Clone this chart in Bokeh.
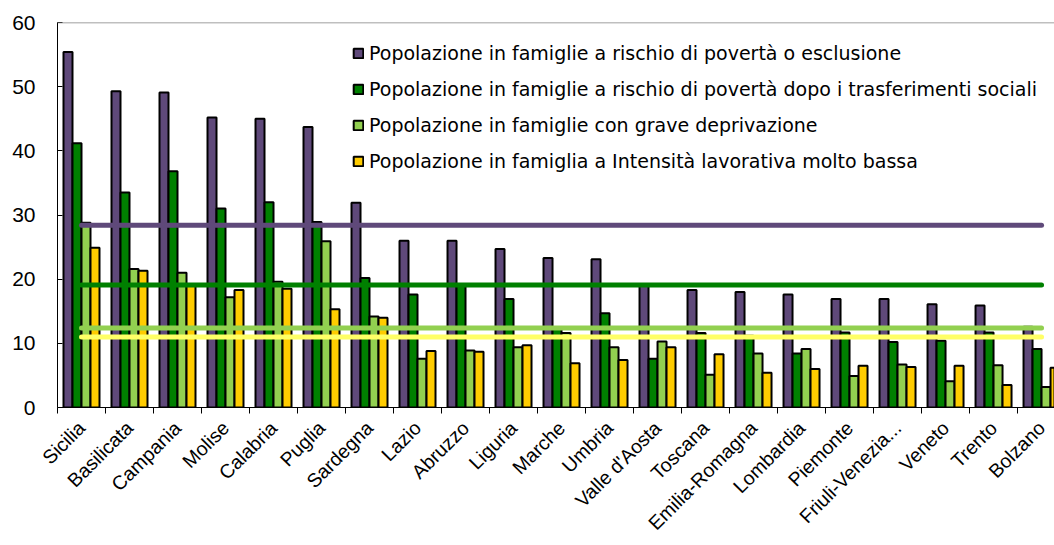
import math
from bokeh.plotting import figure
from bokeh.models import Range1d, FixedTicker, Span, Legend, LegendItem
from bokeh.embed import file_html
from bokeh.resources import INLINE

regions = ["Sicilia", "Basilicata", "Campania", "Molise", "Calabria", "Puglia",
           "Sardegna", "Lazio", "Abruzzo", "Liguria", "Marche", "Umbria",
           "Valle d'Aosta", "Toscana", "Emilia-Romagna", "Lombardia", "Piemonte",
           "Friuli-Venezia...", "Veneto", "Trento", "Bolzano"]

rischio_esclusione = [55.4, 49.3, 49.1, 45.2, 45.0, 43.7, 31.9, 26.0, 26.0, 24.7, 23.3,
                      23.1, 19.0, 18.3, 18.0, 17.6, 16.9, 16.9, 16.1, 15.9, 12.6]
rischio_poverta = [41.2, 33.5, 36.8, 31.0, 32.0, 28.9, 20.2, 17.6, 19.0, 16.9, 12.3,
                   14.7, 7.6, 11.6, 11.2, 8.4, 11.7, 10.2, 10.4, 11.7, 9.1]
grave_deprivazione = [28.8, 21.6, 21.0, 17.2, 19.6, 25.9, 14.2, 7.6, 8.9, 9.4, 11.6,
                      9.4, 10.3, 5.1, 8.4, 9.1, 4.9, 6.7, 4.1, 6.6, 3.2]
bassa_intensita = [24.9, 21.3, 19.1, 18.3, 18.5, 15.3, 14.0, 8.8, 8.7, 9.7, 6.9,
                   7.4, 9.4, 8.3, 5.4, 6.0, 6.5, 6.3, 6.5, 3.5, 6.2]

medie_italia = [28.4, 19.1, 12.4, 11.0]

series_names = [
    "Popolazione in famiglie a rischio di povertà o esclusione",
    "Popolazione in famiglie a rischio di povertà dopo i trasferimenti sociali",
    "Popolazione in famiglie con grave deprivazione",
    "Popolazione in famiglia a Intensità lavorativa molto bassa",
]
series_values = [rischio_esclusione, rischio_poverta, grave_deprivazione, bassa_intensita]
bar_colors = ["#5F497A", "#008000", "#92D050", "#FFCC00"]
line_colors = ["#5F497A", "#008000", "#92D050", "#FFFF66"]

y_ticks = [0, 10, 20, 30, 40, 50, 60]

n = len(regions)
xs = list(range(n))
bw = 0.1875

p = figure(width=1054, height=545, output_backend="svg", toolbar_location=None,
           x_range=Range1d(-0.5, 20.27), y_range=Range1d(0, 60),
           min_border_left=57, min_border_right=0, min_border_top=22,
           min_border_bottom=138)
p.outline_line_color = None
p.xgrid.visible = False
p.ygrid.visible = False
p.background_fill_color = "white"
p.border_fill_color = "white"

renderers = []
for k, (vals, col) in enumerate(zip(series_values, bar_colors)):
    xk = [x + (k - 1.5) * bw for x in xs]
    r = p.vbar(x=xk, top=vals, width=bw, fill_color=col, line_color="black",
               line_width=2)
    renderers.append(r)

for avg, col in zip(medie_italia, line_colors):
    p.line(x=[xs[0], xs[-1]], y=[avg, avg], line_color=col, line_width=5,
           line_cap="round")

p.add_layout(Span(location=y_ticks[-1], dimension="width", line_color="#808080",
                  line_width=1.5))

# y axis
p.yaxis.ticker = FixedTicker(ticks=y_ticks)
p.yaxis.major_tick_in = 5
p.yaxis.major_tick_out = 0
p.yaxis.minor_tick_line_color = None
p.yaxis.axis_line_color = "black"
p.yaxis.major_label_text_font = "Liberation Sans"
p.yaxis.major_label_text_font_size = "21px"
p.yaxis.major_label_text_color = "black"
p.yaxis.major_label_standoff = 22

# x axis
p.xaxis.ticker = FixedTicker(ticks=xs, minor_ticks=[x - 0.5 for x in xs] + [xs[-1] + 0.5])
p.xaxis.major_label_overrides = {i: name for i, name in enumerate(regions)}
p.xaxis.major_tick_in = 0
p.xaxis.major_tick_out = 0
p.xaxis.minor_tick_in = 0
p.xaxis.minor_tick_out = 6
p.xaxis.minor_tick_line_color = "black"
p.xaxis.axis_line_color = "black"
p.xaxis.major_label_orientation = math.pi / 4
p.xaxis.major_label_text_font = "Liberation Sans"
p.xaxis.major_label_text_font_size = "19.5px"
p.xaxis.major_label_text_color = "black"
p.xaxis.major_label_standoff = 11

legend = Legend(items=[LegendItem(label=nm, renderers=[r]) for nm, r in zip(series_names, renderers)],
                location=(295, 235))
legend.label_text_font = "DejaVu Sans"
legend.label_text_font_size = "19px"
legend.label_text_color = "black"
legend.glyph_width = 12
legend.glyph_height = 12
legend.label_height = 22
legend.label_standoff = 5
legend.spacing = 14
legend.padding = 0
legend.margin = 0
legend.border_line_color = None
legend.background_fill_alpha = 0
p.add_layout(legend)

open("out.html", "w").write(file_html(p, INLINE))
